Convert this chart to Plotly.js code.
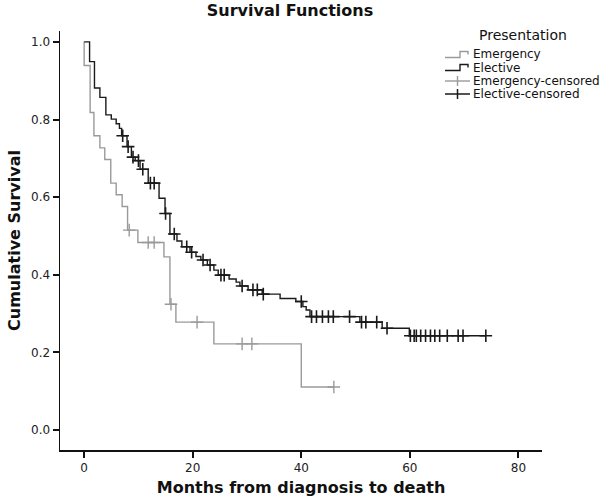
<!DOCTYPE html>
<html>
<head>
<meta charset="utf-8">
<script src="https://cdn.plot.ly/plotly-3.0.1.min.js"></script>
<style>html,body{margin:0;padding:0;background:#fff;}#chart{width:600px;height:497px;}</style>
</head>
<body>
<div id="chart"></div>
<script>
// ---- Data ----
const emergTimes = [0, 1.1, 1.8, 2.9, 3.8, 4.9, 5.9, 7.0, 8.0, 9.9, 14.7, 15.8, 16.9, 23.9, 40.0];
const emergSurv  = [0.939, 0.818, 0.758, 0.727, 0.697, 0.636, 0.606, 0.576, 0.515, 0.483, 0.446, 0.324, 0.278, 0.222, 0.111];
const emergCensT = [8.3, 11.8, 12.9, 16.0, 20.8, 29.1, 30.9, 46.0];
const emergCensS = [0.515, 0.483, 0.483, 0.324, 0.278, 0.222, 0.222, 0.111];

const electTimes = [1.0, 1.9, 2.9, 4.0, 5.0, 5.9, 6.5, 6.9, 7.9, 8.7, 9.4, 10.3, 11.8, 13.8, 14.9, 15.8, 17.1, 18.0, 19.5, 20.6, 21.5, 22.7, 23.9, 24.7, 26.7, 28.0, 28.7, 30.2, 32.8, 36.1, 39.0, 40.3, 40.9, 41.6, 50.8, 54.9, 59.9];
const electSurv  = [0.949, 0.881, 0.857, 0.812, 0.801, 0.789, 0.777, 0.758, 0.730, 0.703, 0.694, 0.672, 0.636, 0.597, 0.558, 0.505, 0.487, 0.472, 0.458, 0.447, 0.438, 0.425, 0.412, 0.399, 0.389, 0.381, 0.371, 0.361, 0.350, 0.339, 0.331, 0.318, 0.309, 0.292, 0.278, 0.262, 0.243];
const electCensT = [7.1, 8.1, 9.0, 10.0, 10.8, 12.2, 12.9, 15.0, 16.6, 18.9, 19.8, 21.9, 23.2, 25.2, 25.8, 29.1, 31.1, 31.9, 33.0, 40.0, 41.9, 42.8, 43.9, 45.0, 45.9, 48.9, 51.1, 51.9, 53.9, 55.8, 60.1, 60.8, 61.2, 62.0, 62.9, 63.8, 64.6, 65.5, 66.9, 68.9, 69.8, 74.0];
const electCensS = [0.758, 0.730, 0.703, 0.694, 0.672, 0.636, 0.636, 0.558, 0.505, 0.472, 0.458, 0.438, 0.425, 0.399, 0.399, 0.371, 0.361, 0.361, 0.350, 0.331, 0.292, 0.292, 0.292, 0.292, 0.292, 0.292, 0.278, 0.278, 0.278, 0.262, 0.243, 0.243, 0.243, 0.243, 0.243, 0.243, 0.243, 0.243, 0.243, 0.243, 0.243, 0.243];

const xTicks = [0, 20, 40, 60, 80];
const yTicks = [0.0, 0.2, 0.4, 0.6, 0.8, 1.0];
const legendLabels = ["Emergency", "Elective", "Emergency-censored", "Elective-censored"];

// ---- Styles ----
const GRAY = "#9a9a9a";
const DARK = "#1a1a1a";
const FONT = "DejaVu Sans, Verdana, sans-serif";

// step curves: start at (0,1), end at the last censored time
function stepX(times, censT) { return [0].concat(times, [censT[censT.length - 1]]); }
function stepY(surv, censS) { return [1].concat(surv, [censS[censS.length - 1]]); }

const traces = [
  { x: stepX(emergTimes, emergCensT), y: stepY(emergSurv, emergCensS), mode: "lines",
    line: { shape: "hv", color: GRAY, width: 1.4 }, hoverinfo: "skip", showlegend: false },
  { x: stepX(electTimes, electCensT), y: stepY(electSurv, electCensS), mode: "lines",
    line: { shape: "hv", color: DARK, width: 1.4 }, hoverinfo: "skip", showlegend: false },
  { x: emergCensT, y: emergCensS, mode: "markers",
    marker: { symbol: "cross-thin", size: 9, line: { color: GRAY, width: 1.4 } }, showlegend: false },
  { x: electCensT, y: electCensS, mode: "markers",
    marker: { symbol: "cross-thin", size: 9, line: { color: DARK, width: 1.6 } }, showlegend: false }
];

// ---- Layout geometry (pixels) ----
const W = 600, H = 497;
const mL = 60, mR = 58, mT = 31, mB = 47;
const pw = W - mL - mR, ph = H - mT - mB;
const px = v => (v - mL) / pw;
const py = v => (H - mB - v) / ph;

// custom legend
const shapes = [
  { type: "path", xref: "paper", yref: "paper",
    path: `M ${px(445)} ${py(57.5)} L ${px(460)} ${py(57.5)} L ${px(460)} ${py(51.5)} L ${px(468)} ${py(51.5)} L ${px(468)} ${py(54.5)}`,
    line: { color: GRAY, width: 1.4 } },
  { type: "path", xref: "paper", yref: "paper",
    path: `M ${px(445)} ${py(70.5)} L ${px(460)} ${py(70.5)} L ${px(460)} ${py(64.5)} L ${px(468)} ${py(64.5)} L ${px(468)} ${py(67.5)}`,
    line: { color: DARK, width: 1.4 } },
  { type: "line", xref: "paper", yref: "paper", x0: px(445), x1: px(470), y0: py(81), y1: py(81), line: { color: GRAY, width: 1.4 } },
  { type: "line", xref: "paper", yref: "paper", x0: px(457.5), x1: px(457.5), y0: py(76), y1: py(86), line: { color: GRAY, width: 1.4 } },
  { type: "line", xref: "paper", yref: "paper", x0: px(445), x1: px(470), y0: py(94), y1: py(94), line: { color: DARK, width: 1.5 } },
  { type: "line", xref: "paper", yref: "paper", x0: px(457.5), x1: px(457.5), y0: py(89), y1: py(99), line: { color: DARK, width: 1.5 } }
];
const rowsY = [54, 68, 81, 94];
const annotations = legendLabels.map((t, i) => ({
  text: t, xref: "paper", yref: "paper", x: px(471), y: py(rowsY[i]),
  xanchor: "left", yanchor: "middle", showarrow: false,
  font: { family: FONT, size: 12, color: "#111" }
}));
annotations.push({
  text: "Presentation", xref: "paper", yref: "paper", x: px(523), y: py(35),
  xanchor: "center", yanchor: "middle", showarrow: false,
  font: { family: FONT, size: 14, color: "#111" }
});

const layout = {
  width: W, height: H,
  margin: { l: mL, r: mR, t: mT, b: mB, pad: 0 },
  paper_bgcolor: "#fff", plot_bgcolor: "#fff",
  showlegend: false,
  title: { text: "<b>Survival Functions</b>", x: 290 / W, xanchor: "center", y: 1 - 10 / H, yanchor: "middle",
           font: { family: FONT, size: 16, color: "#111" } },
  xaxis: {
    range: [-4.45, 84.35], tickvals: xTicks, ticktext: xTicks.map(String),
    showgrid: false, zeroline: false, showline: true, linecolor: "#111", linewidth: 1.5,
    ticks: "outside", ticklen: 6, tickwidth: 2, tickcolor: "#111",
    tickfont: { family: FONT, size: 12, color: "#222" },
    title: { text: "<b>Months from diagnosis to death</b>", standoff: 8,
             font: { family: FONT, size: 16, color: "#111" } }
  },
  yaxis: {
    range: [-0.0515, 1.028], tickvals: yTicks, ticktext: yTicks.map(v => v.toFixed(1)),
    showgrid: false, zeroline: false, showline: true, linecolor: "#111", linewidth: 1.5,
    ticks: "outside", ticklen: 6, tickwidth: 2, tickcolor: "#111",
    tickfont: { family: FONT, size: 12, color: "#222" },
    title: { text: "<b>Cumulative Survival</b>", standoff: 6,
             font: { family: FONT, size: 16, color: "#111" } }
  },
  shapes: shapes,
  annotations: annotations
};

Plotly.newPlot("chart", traces, layout, { staticPlot: true, displayModeBar: false });
</script>
</body>
</html>
